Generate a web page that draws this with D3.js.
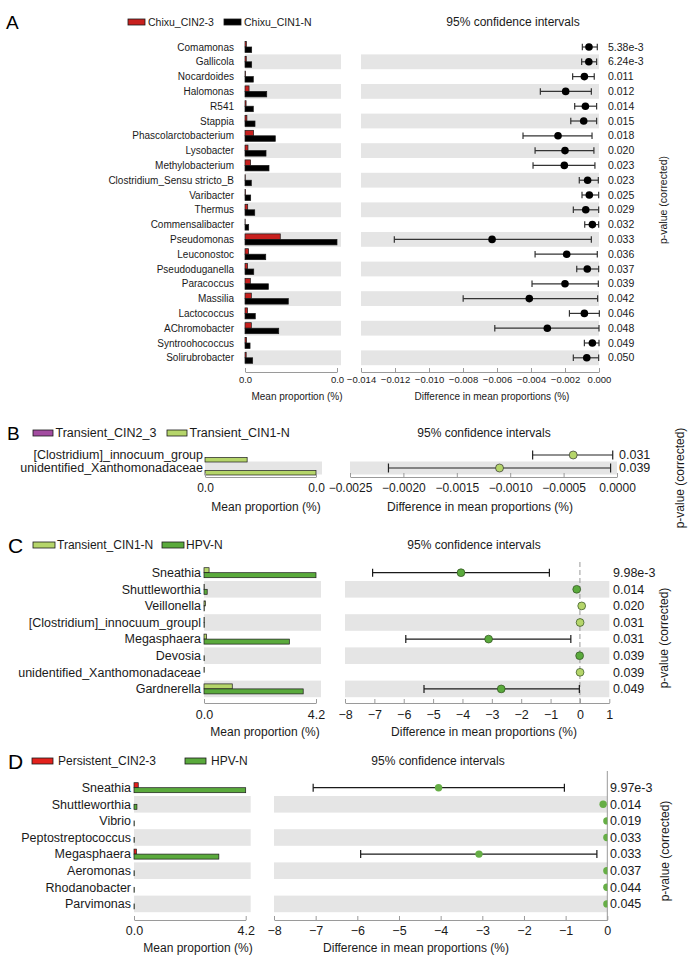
<!DOCTYPE html>
<html>
<head>
<meta charset="utf-8">
<script src="https://cdn.jsdelivr.net/npm/d3@7"></script>
<style>
  body { margin: 0; background: #fff; }
  svg { font-family: "Liberation Sans", Arial, sans-serif; }
</style>
</head>
<body>
<svg id="chart" width="688" height="957"></svg>
<script>
// ---------------- Panel A data ----------------
var aGroups = ["Chixu_CIN2-3", "Chixu_CIN1-N"];
var aTaxa = ["Comamonas", "Gallicola", "Nocardoides", "Halomonas", "R541", "Stappia",
  "Phascolarctobacterium", "Lysobacter", "Methylobacterium", "Clostridium_Sensu stricto_B",
  "Varibacter", "Thermus", "Commensalibacter", "Pseudomonas", "Leuconostoc", "Pseudoduganella",
  "Paracoccus", "Massilia", "Lactococcus", "AChromobacter", "Syntroohococcus", "Solirubrobacter"];
var aMeanG1 = [0.00015, 0.00014, 0.00006, 0.00045, 0.00012, 0.00021, 0.00095, 0.00033, 0.00062, 0.00003,
  0.00006, 0.00030, 0.00002, 0.00391, 0.00040, 0.00028, 0.00059, 0.00070, 0.00028, 0.00070, 0.00017, 0.00013];
var aMeanG2 = [0.00074, 0.00074, 0.00092, 0.00241, 0.00092, 0.00111, 0.00336, 0.00233, 0.00266, 0.00070,
  0.00063, 0.00108, 0.00041, 0.01020, 0.00230, 0.00097, 0.00259, 0.00480, 0.00114, 0.00374, 0.00056, 0.00085];
var aDiff = [-0.00059, -0.00060, -0.00086, -0.00196, -0.00080, -0.00090, -0.00241, -0.00200, -0.00204, -0.00067,
  -0.00057, -0.00078, -0.00039, -0.00629, -0.00190, -0.00069, -0.00200, -0.00410, -0.00086, -0.00304, -0.00039, -0.00072];
var aLow = [-0.00098, -0.00102, -0.00155, -0.00345, -0.00143, -0.00166, -0.00447, -0.00376, -0.00388, -0.00116,
  -0.00100, -0.00151, -0.00084, -0.01204, -0.00376, -0.00131, -0.00394, -0.00799, -0.00174, -0.00613, -0.00086, -0.00151];
var aHigh = [-0.00010, -0.00014, -0.00028, -0.00045, -0.00014, -0.00014, -0.00041, -0.00030, -0.00024, -0.00004,
  -0.00002, -0.00002, -0.00002, -0.00045, -0.00010, -0.00002, -0.00004, -0.00008, 0.00002, 0.00000, 0.00000, -0.00002];
var aPval = ["5.38e-3", "6.24e-3", "0.011", "0.012", "0.014", "0.015", "0.018", "0.020", "0.023", "0.023",
  "0.025", "0.029", "0.032", "0.033", "0.036", "0.037", "0.039", "0.042", "0.046", "0.048", "0.049", "0.050"];
var aDiffTicks = [-0.014, -0.012, -0.010, -0.008, -0.006, -0.004, -0.002, 0];

// ---------------- Panel B data ----------------
var bGroups = ["Transient_CIN2_3", "Transient_CIN1-N"];
var bTaxa = ["[Clostridium]_innocuum_group", "unidentified_Xanthomonadaceae"];
var bMeanG1 = [0, 0];
var bMeanG2 = [0.00041, 0.00108];
var bDiff = [-0.00041, -0.00110];
var bLow = [-0.00079, -0.00214];
var bHigh = [-0.00004, -0.00006];
var bPval = ["0.031", "0.039"];
var bDiffTicks = [-0.0025, -0.0020, -0.0015, -0.0010, -0.0005, 0];

// ---------------- Panel C data ----------------
var cGroups = ["Transient_CIN1-N", "HPV-N"];
var cTaxa = ["Sneathia", "Shuttleworthia", "Veillonella", "[Clostridium]_innocuum_groupl", "Megasphaera",
  "Devosia", "unidentified_Xanthomonadaceae", "Gardnerella"];
var cMeanG1 = [0.19, 0.01, 0.05, 0.01, 0.09, 0.00, 0.01, 1.06];
var cMeanG2 = [4.20, 0.12, 0.01, 0.01, 3.20, 0.01, 0.00, 3.72];
var cDiff = [-4.05, -0.11, 0.06, 0.005, -3.11, -0.01, 0.004, -2.68];
var cLow = [-7.06, -0.11, 0.06, 0.005, -5.93, -0.01, 0.004, -5.31];
var cHigh = [-1.04, -0.11, 0.06, 0.005, -0.31, -0.01, 0.004, -0.02];
var cPval = ["9.98e-3", "0.014", "0.020", "0.031", "0.031", "0.039", "0.039", "0.049"];
var cDiffTicks = [-8, -7, -6, -5, -4, -3, -2, -1, 0, 1];

// ---------------- Panel D data ----------------
var dGroups = ["Persistent_CIN2-3", "HPV-N"];
var dTaxa = ["Sneathia", "Shuttleworthia", "Vibrio", "Peptostreptococcus", "Megasphaera",
  "Aeromonas", "Rhodanobacter", "Parvimonas"];
var dMeanG1 = [0.16, 0.00, 0.00, 0.00, 0.09, 0.00, 0.00, 0.00];
var dMeanG2 = [4.20, 0.11, 0.01, 0.01, 3.19, 0.01, 0.01, 0.01];
var dDiff = [-4.05, -0.10, -0.01, -0.01, -3.08, -0.01, -0.01, -0.01];
var dLow = [-7.06, -0.10, -0.01, -0.01, -5.92, -0.01, -0.01, -0.01];
var dHigh = [-1.03, -0.10, -0.01, -0.01, -0.25, -0.01, -0.01, -0.01];
var dPval = ["9.97e-3", "0.014", "0.019", "0.033", "0.033", "0.037", "0.044", "0.045"];
var dDiffTicks = [-8, -7, -6, -5, -4, -3, -2, -1, 0];

var svg = d3.select('#chart');
svg.append('rect').attr('width', 688).attr('height', 957).attr('fill', '#fff');

var BAND = '#e5e5e5', AXIS = '#9a9a9a', INK = '#1a1a1a';
var greenLight = '#b5d56a', greenDark = '#5aaa3c';

// ************************************************************************************** //
// One extended error bar panel

function drawPanel(p){
  var g = svg.append('g');
  var n = p.taxa.length;

  var y = d3.scaleBand().domain(p.taxa).range([p.row0 - p.step/2, p.row0 - p.step/2 + n*p.step]);
  var cy = function(t){ return y(t) + y.bandwidth()/2; };
  var xBar = d3.scaleLinear().domain([0, p.barMax]).range([p.barX0, p.barX1]);
  var xCi = d3.scaleLinear().domain(p.ciDomain).range([p.ciX0, p.ciX1]);

  // letter and legend
  g.append('text').attr('x', p.letterX).attr('y', p.letterY).attr('dy', '0.36em')
    .style('font-size', p.letterSize + 'px').text(p.letter);
  p.groups.forEach(function(name, i){
    g.append('rect').attr('x', p.legX[i]).attr('y', p.letterY - 3).attr('width', p.legW).attr('height', 6)
      .attr('fill', p.colors[i]).attr('stroke', INK).attr('stroke-width', 0.8);
    g.append('text').attr('x', p.legX[i] + p.legW + p.legGap).attr('y', p.letterY).attr('dy', '0.35em')
      .style('font-size', p.legSize + 'px').attr('fill', INK).text(name);
  });

  // alternating row bands
  var odd = p.taxa.filter(function(d, i){ return i % 2 == 1; });
  g.selectAll('.bandL').data(odd).enter().append('rect')
    .attr('x', p.barX0).attr('width', p.barBandX1 - p.barX0)
    .attr('y', function(d){ return y(d); }).attr('height', y.bandwidth()).attr('fill', BAND);
  g.selectAll('.bandR').data(odd).enter().append('rect')
    .attr('x', p.ciX0).attr('width', p.ciX1 - p.ciX0)
    .attr('y', function(d){ return y(d); }).attr('height', y.bandwidth()).attr('fill', BAND);

  // taxon labels
  g.selectAll('.lab').data(p.taxa).enter().append('text')
    .attr('x', p.labelX).attr('y', cy).attr('dy', '0.35em').attr('text-anchor', 'end')
    .style('font-size', p.labSize + 'px').attr('fill', INK).text(function(d){ return d; });

  // mean proportion bars
  [p.g1, p.g2].forEach(function(vals, k){
    g.selectAll('.bar' + k).data(p.taxa).enter().append('rect')
      .attr('x', xBar(0))
      .attr('y', function(d){ return cy(d) + (k == 0 ? -p.barH : 0) + p.barShift; })
      .attr('width', function(d, i){ return Math.max(0, xBar(vals[i]) - xBar(0)); })
      .attr('height', p.barH)
      .attr('fill', p.colors[k]).attr('stroke', INK).attr('stroke-width', 0.7);
  });

  // zero reference line
  if(p.zeroLine){
    g.append('line').attr('x1', xCi(0)).attr('x2', xCi(0))
      .attr('y1', p.zeroLine.y1).attr('y2', p.axisY)
      .style('stroke', '#999').style('stroke-width', 1)
      .style('stroke-dasharray', p.zeroLine.dash || null);
  }

  // confidence intervals
  var ci = g.append('g');
  if(p.clip){
    svg.append('clipPath').attr('id', 'clip' + p.letter).append('rect')
      .attr('x', p.ciX0).attr('y', y.range()[0] - 10).attr('width', p.ciX1 - p.ciX0).attr('height', n*p.step + 20);
    ci.attr('clip-path', 'url(#clip' + p.letter + ')');
  }
  p.taxa.forEach(function(t, i){
    var yy = cy(t);
    if(xCi(p.hi[i]) - xCi(p.lo[i]) > 1){
      ci.append('line').attr('x1', xCi(p.lo[i])).attr('x2', xCi(p.hi[i])).attr('y1', yy).attr('y2', yy)
        .style('stroke', p.ciStroke).style('stroke-width', 1.2);
      [p.lo[i], p.hi[i]].forEach(function(v){
        ci.append('line').attr('x1', xCi(v)).attr('x2', xCi(v)).attr('y1', yy - p.capH/2).attr('y2', yy + p.capH/2)
          .style('stroke', p.ciStroke).style('stroke-width', 1.2);
      });
    }
    ci.append('circle').attr('cx', xCi(p.diff[i])).attr('cy', yy).attr('r', p.dotR)
      .attr('fill', p.dotColor(p.diff[i])).attr('stroke', p.dotStroke).attr('stroke-width', p.dotStroke == 'none' ? 0 : 0.7);
  });

  // p-values
  g.selectAll('.pv').data(p.pval).enter().append('text')
    .attr('x', p.pX).attr('y', function(d, i){ return cy(p.taxa[i]); }).attr('dy', '0.35em')
    .style('font-size', p.pSize + 'px').attr('fill', INK).text(function(d){ return d; });

  // axes
  var axL = g.append('g').attr('transform', 'translate(0,' + p.axisY + ')')
    .call(d3.axisBottom(xBar).tickValues([0, p.barMax]).tickFormat(d3.format('.1f'))
      .tickSizeInner(-4).tickSizeOuter(0).tickPadding(p.tickPad));
  var axR = g.append('g').attr('transform', 'translate(0,' + p.axisY + ')')
    .call(d3.axisBottom(xCi).tickValues(p.ciTicks).tickFormat(d3.format(p.ciFmt))
      .tickSizeInner(-4).tickSizeOuter(0).tickPadding(p.tickPad));
  [axL, axR].forEach(function(ax){
    ax.attr('font-family', null).attr('font-size', null);
    ax.select('.domain').style('stroke', AXIS);
    ax.selectAll('.tick line').style('stroke', AXIS);
    ax.selectAll('.tick text').style('font-size', p.tickSize + 'px').attr('fill', INK);
  });

  // titles
  g.append('text').attr('x', p.titleX).attr('y', p.letterY).attr('dy', '0.35em').attr('text-anchor', 'middle')
    .style('font-size', p.titleSize + 'px').attr('fill', INK).text('95% confidence intervals');
  g.append('text').attr('x', p.xlabL).attr('y', p.xlabY).attr('dy', '0.35em').attr('text-anchor', 'middle')
    .style('font-size', p.xlabSize + 'px').attr('fill', INK).text('Mean proportion (%)');
  g.append('text').attr('x', p.xlabR).attr('y', p.xlabY).attr('dy', '0.35em').attr('text-anchor', 'middle')
    .style('font-size', p.xlabSize + 'px').attr('fill', INK).text('Difference in mean proportions (%)');
  g.append('text').attr('transform', 'translate(' + p.pLabX + ',' + p.pLabY + ') rotate(-90)')
    .attr('dy', '0.35em').attr('text-anchor', 'middle')
    .style('font-size', p.pLabSize + 'px').attr('fill', INK).text('p-value (corrected)');
}

drawPanel({
  letter: 'A', letterX: 6, letterY: 22, letterSize: 19,
  groups: aGroups, colors: ['#c8201e', '#000000'], legX: [128, 224], legW: 17, legGap: 3, legSize: 10.5,
  taxa: aTaxa, g1: aMeanG1, g2: aMeanG2, diff: aDiff, lo: aLow, hi: aHigh, pval: aPval,
  row0: 47, step: 14.8, labelX: 234, labSize: 10,
  barX0: 245, barX1: 337, barBandX1: 341, barMax: 0.0102, barH: 5.5, barShift: 0,
  ciX0: 361, ciX1: 599, ciDomain: [-0.014, 0], ciTicks: aDiffTicks, ciFmt: '.3f',
  ciStroke: '#333', capH: 6.5, dotR: 3.8, dotStroke: 'none', dotColor: function(){ return '#000'; },
  pX: 608, pSize: 10.5, axisY: 372, tickPad: 4, tickSize: 9.5,
  titleX: 513, titleSize: 12, xlabL: 297, xlabR: 492, xlabY: 396, xlabSize: 10,
  pLabX: 663, pLabY: 200, pLabSize: 10.5
});

drawPanel({
  letter: 'B', letterX: 7, letterY: 433, letterSize: 19,
  groups: bGroups, colors: ['#a24ca0', greenLight], legX: [33, 167], legW: 20, legGap: 2.5, legSize: 12.5,
  taxa: bTaxa, g1: bMeanG1, g2: bMeanG2, diff: bDiff, lo: bLow, hi: bHigh, pval: bPval,
  row0: 455, step: 13, labelX: 203, labSize: 12.5,
  barX0: 205, barX1: 316, barBandX1: 322, barMax: 0.00108, barH: 4.5, barShift: 2.5,
  ciX0: 350, ciX1: 617, ciDomain: [-0.0025, 0], ciTicks: bDiffTicks, ciFmt: '.4f',
  ciStroke: '#222', capH: 9, dotR: 4, dotStroke: '#333', dotColor: function(){ return greenLight; },
  pX: 619, pSize: 12.5, axisY: 477, tickPad: 6, tickSize: 12,
  titleX: 484, titleSize: 12, xlabL: 266, xlabR: 480, xlabY: 507, xlabSize: 12,
  pLabX: 680, pLabY: 478, pLabSize: 12
});

drawPanel({
  letter: 'C', letterX: 8, letterY: 545, letterSize: 21,
  groups: cGroups, colors: [greenLight, greenDark], legX: [33, 162], legW: 22, legGap: 2, legSize: 12,
  taxa: cTaxa, g1: cMeanG1, g2: cMeanG2, diff: cDiff, lo: cLow, hi: cHigh, pval: cPval,
  row0: 572.7, step: 16.6, labelX: 201, labSize: 12.5,
  barX0: 204, barX1: 316, barBandX1: 321, barMax: 4.2, barH: 5, barShift: 0,
  ciX0: 345, ciX1: 609.3, ciDomain: [-8, 1], ciTicks: cDiffTicks, ciFmt: 'd',
  ciStroke: '#1a1a1a', capH: 8, dotR: 3.9, dotStroke: '#2f4f1f',
  dotColor: function(v){ return v < 0 ? greenDark : greenLight; },
  pX: 613, pSize: 12.5, axisY: 703, tickPad: 7, tickSize: 12.5,
  titleX: 474, titleSize: 12, xlabL: 265, xlabR: 484, xlabY: 732, xlabSize: 12,
  pLabX: 664, pLabY: 638, pLabSize: 12,
  zeroLine: { y1: 562, dash: '5,3' }
});

drawPanel({
  letter: 'D', letterX: 8, letterY: 761, letterSize: 21,
  groups: dGroups, colors: ['#e3211c', greenDark], legX: [32, 185], legW: 21, legGap: 5, legSize: 12,
  taxa: dTaxa, g1: dMeanG1, g2: dMeanG2, diff: dDiff, lo: dLow, hi: dHigh, pval: dPval,
  row0: 787.7, step: 16.6, labelX: 131, labSize: 12.5,
  barX0: 134, barX1: 245.7, barBandX1: 250.7, barMax: 4.2, barH: 5, barShift: 0,
  ciX0: 274, ciX1: 607.3, ciDomain: [-8, 0], ciTicks: dDiffTicks, ciFmt: 'd',
  ciStroke: '#1a1a1a', capH: 8, dotR: 3.7, dotStroke: 'none',
  dotColor: function(){ return '#66ae46'; }, clip: true,
  pX: 610, pSize: 12.5, axisY: 920, tickPad: 6, tickSize: 12.5,
  titleX: 438, titleSize: 12, xlabL: 198, xlabR: 416, xlabY: 948, xlabSize: 12,
  pLabX: 665, pLabY: 851, pLabSize: 12,
  zeroLine: { y1: 771 }
});
</script>
</body>
</html>
